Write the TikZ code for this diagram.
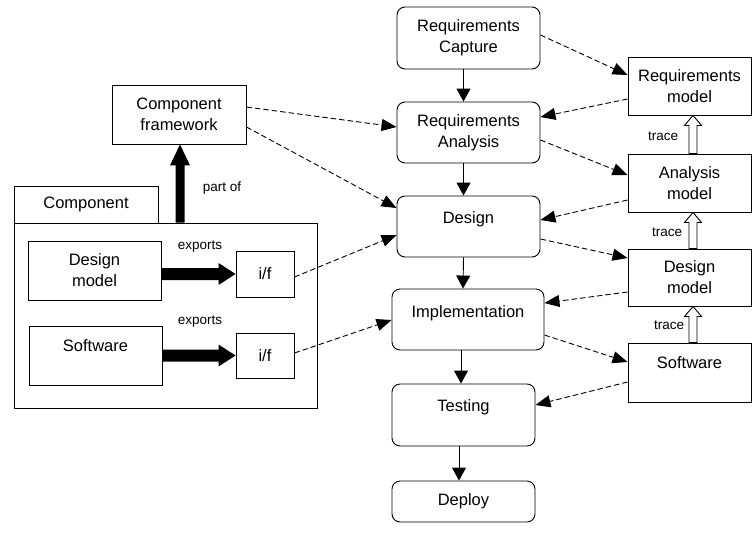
\documentclass[tikz,border=0pt]{standalone}
\usepackage{fontspec}
\setmainfont{Liberation Sans}
\usetikzlibrary{arrows.meta,calc}
\begin{document}
\begin{tikzpicture}[x=1pt,y=-1pt,
  box/.style={draw, line width=0.9pt, inner sep=0pt, align=center, font=\fontsize{16.5}{21}\selectfont},
  rbox/.style={box, rounded corners=8pt},
  dflow/.style={line width=0.9pt, dash pattern=on 5.5pt off 3pt, -{Triangle[length=15pt,width=12pt]}},
  flow/.style={line width=0.9pt, -{Triangle[length=13pt,width=14pt]}},
  small/.style={font=\fontsize{13.5}{15}\selectfont, inner sep=0pt},
  hollow/.style={draw, fill=white, line width=0.9pt},
]
\useasboundingbox (0,0) rectangle (752,541);
% process column
\node[rbox, minimum width=143pt, minimum height=62pt] (rc) at (468.5,38) {Requirements\\Capture};
\node[rbox, minimum width=143pt, minimum height=61pt] (ra) at (468.5,132.5) {Requirements\\Analysis};
\node[rbox, minimum width=143pt, text height=27pt, text depth=34pt] (des) at (468.5,226.5) {Design};
\node[rbox, minimum width=152pt, text height=28pt, text depth=33pt] (impl) at (468,319.5) {Implementation};
\node[rbox, minimum width=143pt, text height=27pt, text depth=35pt] (test) at (463.5,415) {Testing};
\node[rbox, minimum width=143pt, minimum height=41pt] (dep) at (463.5,501.5) {Deploy};
% model column
\node[box, minimum width=123pt, minimum height=58pt] (rm) at (689.5,86) {Requirements\\model};
\node[box, minimum width=123pt, minimum height=58pt] (am) at (689.5,183) {Analysis\\model};
\node[box, minimum width=123pt, minimum height=57pt] (dmod) at (689.5,277.5) {Design\\model};
\node[box, minimum width=123pt, text height=25pt, text depth=34pt] (sw) at (689.5,372.5) {Software};
% left part
\node[box, minimum width=134pt, minimum height=59pt] (cf) at (179,114.5) {Component\\framework};
\node[box, minimum width=144pt, minimum height=37pt] (ctab) at (86,204.5) {Component};
\node[box, minimum width=303pt, minimum height=185pt] (cbody) at (165.5,315.5) {};
\node[box, minimum width=133pt, minimum height=59pt] (dm) at (94.5,270.5) {Design\\model};
\node[box, minimum width=58pt, minimum height=46pt] (if1) at (265,274) {i/f};
\node[box, minimum width=133pt, text height=25pt, text depth=34pt] (sw2) at (95.5,355.5) {Software};
\node[box, minimum width=58pt, minimum height=45pt] (if2) at (265,355.5) {i/f};
% labels
\node[small] (lpart) at (222,188) {part of};
\node[small] (lexp1) at (200,247) {exports};
\node[small] (lexp2) at (200,322) {exports};
\node[small] (ltr1) at (663,136) {trace};
\node[small] (ltr2) at (667,232) {trace};
\node[small] (ltr3) at (669,325) {trace};
% process flow
\draw[flow] ([xshift=-5pt]rc.south) -- ([xshift=-5pt]ra.north);
\draw[flow] ([xshift=-5pt]ra.south) -- ([xshift=-5pt]des.north);
\draw[flow] ([xshift=-5pt]des.south) -- ([xshift=-5pt]impl.north);
\draw[flow] ([xshift=-7pt]impl.south) -- ([xshift=-2.5pt]test.north);
\draw[flow] ([xshift=-4.5pt]test.south) -- ([xshift=-4.5pt]dep.north);
% dashed links right
\draw[dflow] ([yshift=3pt]rc.east) -- ([yshift=11pt]rm.west);
\draw[dflow] ([yshift=-13pt]rm.west) -- ([yshift=15.5pt]ra.east);
\draw[dflow] ([yshift=-7.5pt]ra.east) -- ([yshift=8pt]am.west);
\draw[dflow] ([yshift=-17pt]am.west) -- ([yshift=6.5pt]des.east);
\draw[dflow] ([yshift=-12.5pt]des.east) -- ([yshift=19.5pt]dmod.west);
\draw[dflow] ([yshift=-14.5pt]dmod.west) -- ([yshift=16.5pt]impl.east);
\draw[dflow] ([yshift=-15.5pt]impl.east) -- ([yshift=10.5pt]sw.west);
\draw[dflow] ([yshift=-9.5pt]sw.west) -- ([yshift=10pt]test.east);
% dashed links left
\draw[dflow] ([yshift=7.5pt]cf.east) -- ([yshift=5.5pt]ra.west);
\draw[dflow] ([yshift=-12.5pt]cf.east) -- ([yshift=18.5pt]des.west);
\draw[dflow] ([yshift=-3pt]if1.east) -- ([yshift=-8.5pt]des.west);
\draw[dflow] ([yshift=2.5pt]if2.east) -- ([yshift=-0.5pt]impl.west);
% trace arrows (hollow)
\foreach \lo/\up in {am/rm, dmod/am, sw/dmod}{
  \path[hollow] let \p1=([xshift=3.5pt]\lo.north), \p2=(\up.south) in
    (\x1+4pt,\y1) -- (\x1+4pt,\y2-10pt) -- (\x1+8.5pt,\y2-10pt) -- (\x1,\y2)
    -- (\x1-8.5pt,\y2-10pt) -- (\x1-4pt,\y2-10pt) -- (\x1-4pt,\y1) -- cycle;
}
% exports arrows (thick)
\fill let \p1=(dm.east), \p2=(if1.west) in
  (\x1,\y2+6pt) -- (\x2-17pt,\y2+6pt) -- (\x2-17pt,\y2+11pt) -- (\x2,\y2)
  -- (\x2-17pt,\y2-11pt) -- (\x2-17pt,\y2-6pt) -- (\x1,\y2-6pt) -- cycle;
\fill let \p1=(sw2.east), \p2=(if2.west) in
  (\x1,\y2+6pt) -- (\x2-17pt,\y2+6pt) -- (\x2-17pt,\y2+11pt) -- (\x2,\y2)
  -- (\x2-17pt,\y2-11pt) -- (\x2-17pt,\y2-6pt) -- (\x1,\y2-6pt) -- cycle;
% part of arrow
\fill let \p1=([xshift=14.5pt]cbody.north), \p2=(cf.south) in
  (\x1+4.5pt,\y1) -- (\x1+4.5pt,\y2-21pt) -- (\x1+10pt,\y2-21pt) -- (\x1,\y2)
  -- (\x1-10pt,\y2-21pt) -- (\x1-4.5pt,\y2-21pt) -- (\x1-4.5pt,\y1) -- cycle;
\end{tikzpicture}
\end{document}
